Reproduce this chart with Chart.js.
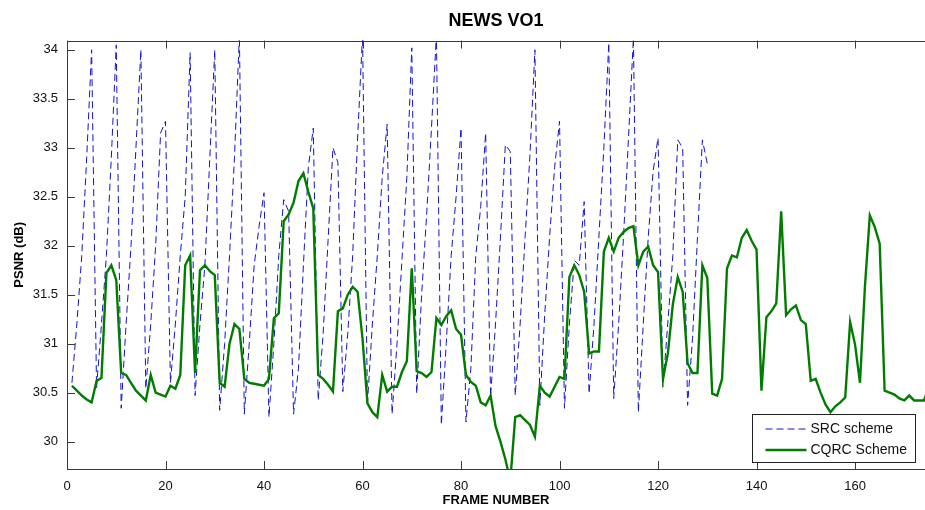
<!DOCTYPE html>
<html>
<head>
<meta charset="utf-8">
<title>NEWS VO1</title>
<script src="https://cdn.jsdelivr.net/npm/chart.js@4.4.1/dist/chart.umd.min.js"></script>
<style>
  html, body { margin: 0; padding: 0; background: #fff; }
  #wrap { width: 925px; height: 510px; }
</style>
</head>
<body>
<div id="wrap"><canvas id="psnrChart" width="925" height="510"></canvas></div>
<script>
'use strict';

// series names, as in the legend
const seriesNames = ['SRC scheme', 'CQRC Scheme'];

// axis ticks
const xTickValues = [0, 20, 40, 60, 80, 100, 120, 140, 160];
const yTickValues = [30, 30.5, 31, 31.5, 32, 32.5, 33, 33.5, 34];

// PSNR (dB) per frame, SRC scheme, frames 1..130
const srcPsnr = [
  30.60, 31.20, 31.90, 32.90, 34.00,
  30.55, 31.20, 31.90, 32.90, 34.05,
  30.34, 31.20, 32.00, 33.00, 34.00,
  30.54, 31.20, 32.00, 33.15, 33.27,
  30.60, 31.20, 31.90, 32.50, 33.97,
  30.47, 31.20, 31.80, 32.90, 34.00,
  30.32, 31.00, 31.90, 32.90, 34.15,
  30.28, 31.00, 31.80, 32.20, 32.54,
  30.25, 31.00, 31.90, 32.47, 32.35,
  30.28, 30.75, 31.80, 32.80, 33.20,
  30.42, 31.10, 32.05, 33.00, 32.85,
  30.51, 31.10, 31.90, 33.10, 34.15,
  30.39, 31.20, 31.90, 32.70, 33.24,
  30.28, 31.00, 31.85, 32.70, 34.02,
  30.49, 31.50, 32.30, 33.20, 34.15,
  30.17, 31.00, 31.90, 32.50, 33.20,
  30.20, 30.75, 31.90, 32.40, 33.15,
  30.46, 31.20, 32.08, 33.03, 32.96,
  30.47, 31.20, 32.08, 32.93, 34.00,
  30.37, 31.30, 32.10, 32.80, 33.27,
  30.34, 31.20, 31.85, 31.80, 32.45,
  30.49, 31.20, 32.10, 33.00, 34.07,
  30.44, 31.20, 32.10, 33.10, 34.12,
  30.30, 31.20, 32.08, 32.76, 33.10,
  30.56, 31.22, 31.90, 33.08, 33.00,
  30.37, 31.05, 32.08, 33.08, 32.84
];

// PSNR (dB) per frame, CQRC scheme, frames 1..175
const cqrcPsnr = [
  30.57, 30.52, 30.47, 30.43, 30.40, 30.62, 30.65, 31.72, 31.80, 31.65,
  30.70, 30.68, 30.60, 30.52, 30.47, 30.42, 30.68, 30.50, 30.48, 30.46,
  30.57, 30.54, 30.68, 31.80, 31.90, 30.70, 31.75, 31.80, 31.74, 31.70,
  30.60, 30.56, 31.00, 31.20, 31.15, 30.64, 30.60, 30.59, 30.58, 30.57,
  30.64, 31.26, 31.31, 32.25, 32.32, 32.44, 32.66, 32.74, 32.55, 32.38,
  30.68, 30.64, 30.58, 30.51, 31.33, 31.36, 31.50, 31.58, 31.53, 31.05,
  30.39, 30.30, 30.25, 30.68, 30.51, 30.56, 30.56, 30.71, 30.82, 31.77,
  30.72, 30.70, 30.66, 30.71, 31.26, 31.19, 31.28, 31.34, 31.15, 31.09,
  30.68, 30.61, 30.57, 30.40, 30.37, 30.47, 30.16, 30.00, 29.82, 29.60,
  30.25, 30.27, 30.22, 30.17, 30.05, 30.57, 30.50, 30.46, 30.56, 30.66,
  30.64, 31.68, 31.80, 31.70, 31.53, 30.90, 30.92, 30.92, 31.94, 32.08,
  31.94, 32.08, 32.14, 32.18, 32.20, 31.80, 31.94, 31.99, 31.80, 31.73,
  30.64, 30.90, 31.40, 31.68, 31.53, 30.80, 30.70, 30.70, 31.80, 31.67,
  30.49, 30.47, 30.64, 31.77, 31.90, 31.88, 32.08, 32.16, 32.05, 31.96,
  30.52, 31.27, 31.33, 31.41, 32.35, 31.29, 31.35, 31.39, 31.24, 31.20,
  30.62, 30.64, 30.50, 30.38, 30.30, 30.36, 30.40, 30.45, 31.22, 30.99,
  30.60, 31.58, 32.31, 32.19, 32.02, 30.52, 30.50, 30.48, 30.44, 30.42,
  30.47, 30.42, 30.42, 30.42, 30.56
];

const FONT = "'Liberation Sans', Arial, Helvetica, sans-serif";

function toPoints(values) {
  // frame numbers start at 1
  return values.map(function (v, i) { return { x: i + 1, y: v }; });
}

// matlab style box, inward ticks and a legend inside the axes
const matlabFrame = {
  id: 'matlabFrame',
  afterDraw: function (chart) {
    const ctx = chart.ctx;
    const a = chart.chartArea;
    const x = chart.scales.x;
    const y = chart.scales.y;
    const tick = 8;

    ctx.save();
    ctx.strokeStyle = '#3a3a3a';
    ctx.lineWidth = 1;
    ctx.strokeRect(Math.round(a.left) + 0.5, Math.round(a.top) + 0.5,
      Math.round(a.right - a.left) + 2, Math.round(a.bottom - a.top));

    ctx.beginPath();
    x.ticks.forEach(function (t) {
      const px = Math.round(x.getPixelForValue(t.value)) + 0.5;
      ctx.moveTo(px, a.bottom);
      ctx.lineTo(px, a.bottom - tick);
      ctx.moveTo(px, a.top);
      ctx.lineTo(px, a.top + tick);
    });
    y.ticks.forEach(function (t) {
      const py = Math.round(y.getPixelForValue(t.value)) + 0.5;
      ctx.moveTo(a.left, py);
      ctx.lineTo(a.left + tick, py);
    });
    ctx.stroke();

    // legend box
    const box = { left: 752.5, top: 414.5, width: 163, height: 48 };
    ctx.fillStyle = '#fff';
    ctx.fillRect(box.left, box.top, box.width, box.height);
    ctx.strokeStyle = '#222';
    ctx.strokeRect(box.left, box.top, box.width, box.height);

    ctx.font = '14px ' + FONT;
    ctx.textBaseline = 'middle';
    ctx.textAlign = 'left';
    chart.data.datasets.forEach(function (ds, i) {
      const rowY = box.top + 14.5 + i * 21;
      ctx.save();
      ctx.strokeStyle = ds.borderColor;
      ctx.lineWidth = ds.borderWidth;
      ctx.setLineDash(ds.borderDash || []);
      ctx.beginPath();
      ctx.moveTo(box.left + 13, rowY);
      ctx.lineTo(box.left + 54, rowY);
      ctx.stroke();
      ctx.restore();
      ctx.fillStyle = '#111';
      ctx.fillText(ds.label, box.left + 58, rowY + 0.5);
    });
    ctx.restore();
  }
};

const data = {
  datasets: [{
    label: seriesNames[0],
    data: toPoints(srcPsnr),
    borderColor: 'rgb(20, 20, 205)',
    borderWidth: 1,
    borderDash: [7, 4],
    order: 2
  }, {
    label: seriesNames[1],
    data: toPoints(cqrcPsnr),
    borderColor: 'rgb(0, 125, 0)',
    borderWidth: 2.4,
    order: 1
  }]
};

const config = {
  type: 'line',
  data: data,
  options: {
    responsive: false,
    animation: false,
    devicePixelRatio: 1,
    parsing: false,
    layout: { padding: { left: 6, right: 0, top: 0, bottom: 0 } },
    elements: {
      point: { radius: 0, hoverRadius: 0 },
      line: { tension: 0, borderJoinStyle: 'miter' }
    },
    plugins: {
      legend: { display: false },
      tooltip: { enabled: false },
      title: {
        display: true,
        text: 'NEWS VO1',
        fullSize: false,
        color: '#000',
        font: { family: FONT, size: 18, weight: 'bold' },
        padding: { top: 10, bottom: 9 }
      }
    },
    scales: {
      x: {
        type: 'linear',
        min: 0,
        max: 174.2,
        grid: { display: false },
        border: { display: false },
        afterBuildTicks: function (s) { s.ticks = xTickValues.map(function (v) { return { value: v }; }); },
        afterFit: function (s) { s.height = 41; },
        ticks: {
          color: '#111',
          padding: 2,
          autoSkip: false,
          maxRotation: 0,
          font: { family: FONT, size: 13 }
        },
        title: {
          display: true,
          text: 'FRAME NUMBER',
          color: '#000',
          font: { family: FONT, size: 13, weight: 'bold' },
          padding: { top: 0, bottom: 2 }
        }
      },
      y: {
        type: 'linear',
        min: 29.72,
        max: 34.094,
        grid: { display: false },
        border: { display: false },
        afterBuildTicks: function (s) { s.ticks = yTickValues.map(function (v) { return { value: v }; }); },
        afterFit: function (s) { s.width = 61; },
        ticks: {
          color: '#111',
          padding: 1,
          font: { family: FONT, size: 13 },
          callback: function (v) { return String(Math.round(v * 10) / 10); }
        },
        title: {
          display: true,
          text: 'PSNR (dB)',
          color: '#000',
          font: { family: FONT, size: 13, weight: 'bold' },
          padding: { top: 6, bottom: 0 }
        }
      }
    }
  },
  plugins: [matlabFrame]
};

var psnrChart = new Chart(document.getElementById('psnrChart'), config);
</script>
</body>
</html>
